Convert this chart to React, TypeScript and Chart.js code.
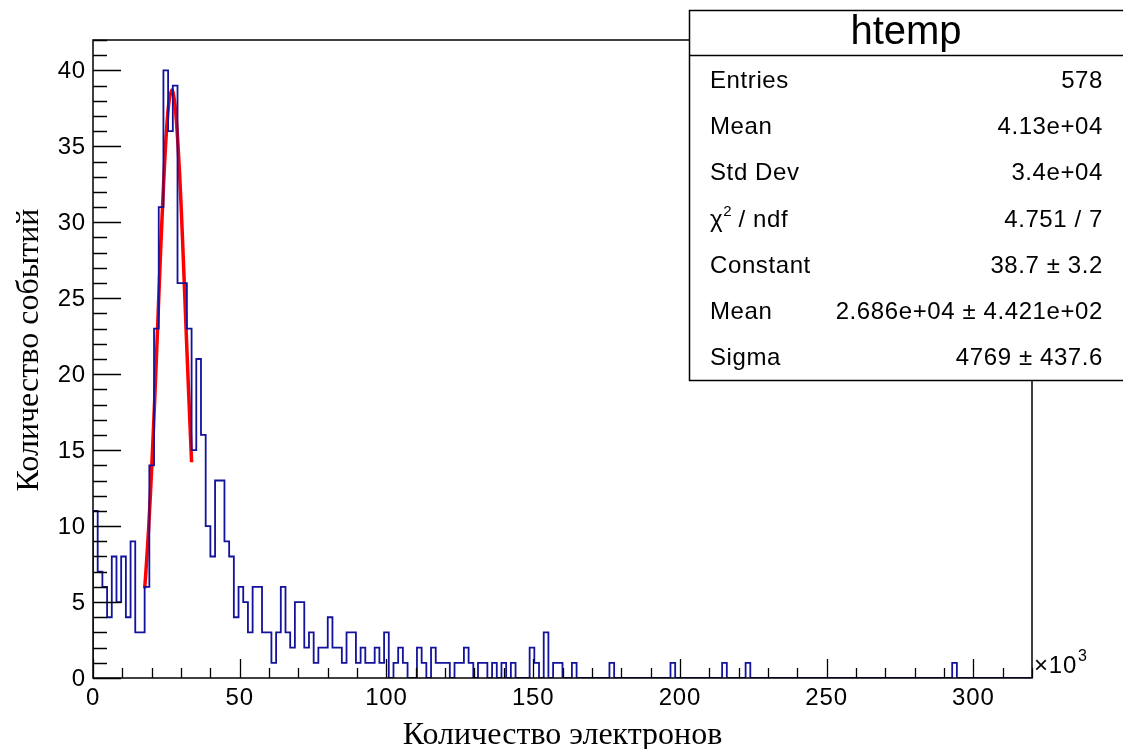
import { useEffect, useRef } from "react";
import { Chart, registerables } from "chart.js";

Chart.register(...registerables);

// Histogram "htemp": 200 bins of 1.6 ×10³ electrons each, from 0 to 320 ×10³
const BIN_WIDTH = 1.6;
const X_MIN = 0;
const X_MAX = 320;
const Y_MIN = 0;
const Y_MAX = 42;

// Event counts per bin
const counts = [
  11, 7, 6, 4, 8, 5, 8, 4, 9, 3, 3, 6, 14, 23, 31, 40, 36, 39, 26, 26,
  23, 15, 21, 16, 10, 8, 13, 13, 9, 8, 4, 6, 5, 3, 6, 6, 3, 3, 1, 3,
  6, 3, 2, 5, 5, 2, 3, 1, 2, 2, 4, 2, 2, 1, 3, 3, 1, 2, 1, 1,
  2, 1, 3, 0, 1, 2, 1, 0, 0, 2, 1, 0, 2, 1, 1, 1, 0, 1, 1, 2,
  1, 0, 1, 1, 0, 1, 0, 1, 0, 1, 0, 0, 0, 2, 1, 0, 3, 0, 1, 1,
  0, 0, 1, 0, 0, 0, 0, 0, 0, 0, 1, 0, 0, 0, 0, 0, 0, 0, 0, 0,
  0, 0, 0, 1, 0, 0, 0, 0, 0, 0, 0, 0, 0, 0, 1, 0, 0, 0, 0, 1,
  0, 0, 0, 0, 0, 0, 0, 0, 0, 0, 0, 0, 0, 0, 0, 0, 0, 0, 0, 0,
  0, 0, 0, 0, 0, 0, 0, 0, 0, 0, 0, 0, 0, 0, 0, 0, 0, 0, 0, 0,
  0, 0, 0, 1, 0, 0, 0, 0, 0, 0, 0, 0, 0, 0, 0, 0, 0, 0, 0, 0,
];

// Gaussian fit curve over the peak (x in ×10³ electrons, y in events)
const fitX = [17.6, 18, 19, 20, 21, 22, 23, 24, 25, 26, 27, 28, 29, 30, 31, 32, 33, 33.6];
const fitY = [5.9, 6.9, 10.0, 13.8, 18.2, 23.0, 27.9, 32.3, 35.9, 38.1, 38.7, 37.6, 35.0, 31.2, 26.5, 21.6, 16.9, 14.2];

// Axis ticks
const xMajorTicks = [0, 50, 100, 150, 200, 250, 300];
const xMinorStep = 10;
const yMajorTicks = [0, 5, 10, 15, 20, 25, 30, 35, 40];
const yMinorStep = 1;

const xTitle = "Количество электронов";
const yTitle = "Количество событий";
const histName = "htemp";

// Statistics box rows
const statNames = ["Entries", "Mean", "Std Dev", "χ2 / ndf", "Constant", "Mean", "Sigma"];
const statValues = ["578", "4.13e+04", "3.4e+04", "4.751 / 7", "38.7 ± 3.2", "2.686e+04 ± 4.421e+02", "4769 ± 437.6"];

const SANS = "'Liberation Sans', Arial, Helvetica, sans-serif";
const SERIF = "'Liberation Serif', 'Times New Roman', serif";

const rootStylePlugin = {
  id: "rootStyle",
  afterDatasetsDraw(chart: any) {
    const { ctx, chartArea, scales } = chart;
    const xs = scales.x;
    const ys = scales.y;
    const { left, right, top, bottom } = chartArea;
    ctx.save();

    // frame
    ctx.strokeStyle = "#000";
    ctx.lineWidth = 1.5;
    ctx.strokeRect(left, top, right - left, bottom - top);

    // x ticks (pointing up from the bottom axis)
    ctx.lineWidth = 1.3;
    ctx.beginPath();
    for (let v = X_MIN; v <= X_MAX + 1e-9; v += xMinorStep) {
      const px = Math.round(xs.getPixelForValue(v)) + 0.5;
      const len = xMajorTicks.includes(v) ? 19 : 10;
      ctx.moveTo(px, bottom);
      ctx.lineTo(px, bottom - len);
    }
    // y ticks (pointing right from the left axis)
    for (let v = Y_MIN; v <= Y_MAX + 1e-9; v += yMinorStep) {
      const py = Math.round(ys.getPixelForValue(v)) + 0.5;
      const len = yMajorTicks.includes(v) ? 28 : 14;
      ctx.moveTo(left, py);
      ctx.lineTo(left + len, py);
    }
    ctx.stroke();

    // tick labels
    ctx.fillStyle = "#000";
    ctx.font = `24px ${SANS}`;
    ctx.letterSpacing = "0.8px";
    ctx.textAlign = "center";
    ctx.textBaseline = "top";
    for (const v of xMajorTicks) {
      ctx.fillText(String(v), xs.getPixelForValue(v), bottom + 8);
    }
    ctx.textAlign = "right";
    ctx.textBaseline = "middle";
    for (const v of yMajorTicks) {
      ctx.fillText(String(v), left - 7, ys.getPixelForValue(v) + 1);
    }

    // ×10³ exponent marker
    ctx.textAlign = "left";
    ctx.textBaseline = "alphabetic";
    ctx.font = `24px ${SANS}`;
    ctx.fillText("×10", right + 2, bottom - 5);
    const w = ctx.measureText("×10").width;
    ctx.font = `16px ${SANS}`;
    ctx.fillText("3", right + 3 + w, bottom - 17);
    ctx.letterSpacing = "0px";

    // axis titles
    ctx.font = `32px ${SERIF}`;
    ctx.textAlign = "center";
    ctx.textBaseline = "alphabetic";
    ctx.fillText(xTitle, (left + right) / 2, 744);
    ctx.save();
    ctx.translate(38, (top + bottom) / 2 - 9);
    ctx.rotate(-Math.PI / 2);
    ctx.fillText(yTitle, 0, 0);
    ctx.restore();

    ctx.restore();
  },
  afterDraw(chart: any) {
    const { ctx } = chart;
    ctx.save();
    // statistics box
    const bx = 689.5;
    const by = 10.5;
    const bw = 460;
    const bh = 370;
    ctx.fillStyle = "#fff";
    ctx.fillRect(bx, by, bw, bh);
    ctx.strokeStyle = "#000";
    ctx.lineWidth = 1.5;
    ctx.strokeRect(bx, by, bw, bh);
    ctx.beginPath();
    ctx.moveTo(bx, 55.5);
    ctx.lineTo(bx + bw, 55.5);
    ctx.stroke();

    ctx.fillStyle = "#000";
    ctx.font = `40px ${SANS}`;
    ctx.textAlign = "center";
    ctx.textBaseline = "alphabetic";
    ctx.fillText(histName, 906, 44);

    ctx.letterSpacing = "0.6px";
    const rowTop = 88;
    const rowStep = 46.2;
    statNames.forEach((name, i) => {
      const y = rowTop + i * rowStep;
      ctx.font = `24px ${SANS}`;
      ctx.textAlign = "left";
      if (name.startsWith("χ2")) {
        ctx.fillText("χ", 710, y);
        const cw = ctx.measureText("χ").width;
        ctx.font = `15px ${SANS}`;
        ctx.fillText("2", 710 + cw, y - 11);
        ctx.font = `24px ${SANS}`;
        ctx.fillText(name.slice(2), 710 + cw + 8, y);
      } else {
        ctx.fillText(name, 710, y);
      }
      ctx.textAlign = "right";
      ctx.fillText(statValues[i], 1103, y);
    });
    ctx.restore();
  },
};

export default function App() {
  const canvasRef = useRef<HTMLCanvasElement | null>(null);

  useEffect(() => {
    document.body.style.margin = "0";
    const canvas = canvasRef.current;
    if (!canvas) return;

    // outline of the histogram: horizontal across each bin, vertical at each edge
    const histPoints: { x: number; y: number }[] = [{ x: X_MIN, y: 0 }, { x: X_MIN, y: counts[0] }];
    counts.forEach((c, i) => histPoints.push({ x: X_MIN + (i + 1) * BIN_WIDTH, y: counts[i + 1] ?? 0 }));

    const fitPoints = fitX.map((x, i) => ({ x, y: fitY[i] }));

    const chart = new Chart(canvas, {
      type: "line",
      data: {
        datasets: [
          {
            label: histName,
            data: histPoints,
            stepped: "before",
            borderColor: "#12129c",
            borderWidth: 1.8,
            pointRadius: 0,
            fill: false,
          },
          {
            label: "gaus",
            data: fitPoints,
            borderColor: "#ff0000",
            borderWidth: 3.5,
            pointRadius: 0,
            tension: 0.3,
            fill: false,
          },
        ],
      },
      options: {
        responsive: false,
        animation: false,
        events: [],
        layout: { padding: { left: 93, right: 91, top: 40, bottom: 71 } },
        plugins: { legend: { display: false }, tooltip: { enabled: false }, title: { display: false } },
        scales: {
          x: { type: "linear", min: X_MIN, max: X_MAX, display: false },
          y: { type: "linear", min: Y_MIN, max: Y_MAX, display: false },
        },
      },
      plugins: [rootStylePlugin],
    });
    return () => chart.destroy();
  }, []);

  return (
    <div style={{ position: "absolute", left: 0, top: 0, width: 1123, height: 749, background: "#fff" }}>
      <canvas ref={canvasRef} width={1123} height={749} style={{ display: "block" }} />
    </div>
  );
}
